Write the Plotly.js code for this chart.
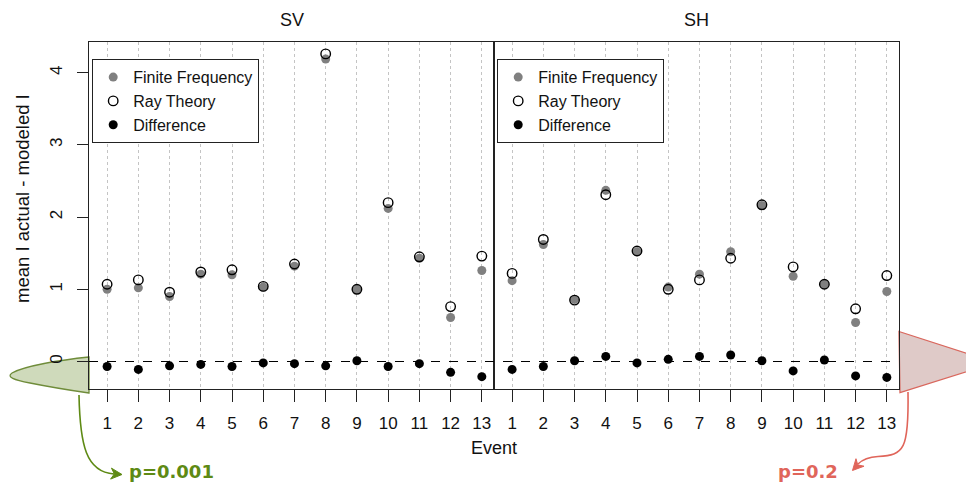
<!DOCTYPE html>
<html>
<head>
<meta charset="utf-8">
<script src="https://cdn.plot.ly/plotly-3.0.1.min.js"></script>
<style>
html,body{margin:0;padding:0;background:#fff;}
#chart{width:966px;height:483px;}
</style>
</head>
<body>
<div id="chart"></div>
<script>
// ---- data ----
var events = [1,2,3,4,5,6,7,8,9,10,11,12,13];
var tickLabels = ["1","2","3","4","5","6","7","8","9","10","11","12","13"];
var yTicks = [0,1,2,3,4];
var panelTitles = ["SV","SH"];
var seriesNames = ["Finite Frequency","Ray Theory","Difference"];

var svFinite = [1.00, 1.02, 0.90, 1.21, 1.20, 1.03, 1.32, 4.19, 1.00, 2.12, 1.43, 0.61, 1.26];
var svRay    = [1.07, 1.13, 0.96, 1.24, 1.27, 1.04, 1.35, 4.26, 1.00, 2.20, 1.45, 0.76, 1.46];
var svDiff   = [-0.07, -0.11, -0.06, -0.04, -0.07, -0.02, -0.03, -0.06, 0.01, -0.07, -0.03, -0.15, -0.21];

var shFinite = [1.12, 1.62, 0.86, 2.37, 1.52, 1.03, 1.21, 1.52, 2.16, 1.18, 1.07, 0.54, 0.97];
var shRay    = [1.22, 1.69, 0.85, 2.31, 1.53, 1.00, 1.13, 1.43, 2.17, 1.31, 1.07, 0.73, 1.19];
var shDiff   = [-0.11, -0.07, 0.01, 0.07, -0.02, 0.03, 0.07, 0.09, 0.01, -0.13, 0.02, -0.20, -0.22];

var pLeft = "p=0.001";
var pRight = "p=0.2";

// ---- layout geometry helpers (pixel -> paper) ----
var W = 966, H = 483;
var ML = 89, MR = 67, MT = 42, MB = 94;
var PW = W - ML - MR, PH = H - MT - MB;
function px(x){ return (x - ML) / PW; }
function py(y){ return (H - MB - y) / PH; }
function pt(x, y){ return px(x).toFixed(5) + "," + py(y).toFixed(5); }

var FONT = "Liberation Sans, Arial, Helvetica, sans-serif";
var GREY = "#808080";

function mk(x, y, name, style, xa, ya, legendName, show){
  var t = {x:x, y:y, type:"scatter", mode:"markers", name:name,
           xaxis:xa, yaxis:ya, legend:legendName, showlegend:show,
           cliponaxis:false, hoverinfo:"skip"};
  t.marker = style;
  return t;
}
var ffStyle = {symbol:"circle", size:9, color:GREY, line:{width:0}};
var rtStyle = {symbol:"circle-open", size:9.5, color:"#000", line:{width:1.4, color:"#000"}};
var dfStyle = {symbol:"circle", size:9, color:"#000", line:{width:0}};

var data = [
  mk(events, svFinite, seriesNames[0], ffStyle, "x", "y", "legend", true),
  mk(events, svRay, seriesNames[1], rtStyle, "x", "y", "legend", true),
  mk(events, svDiff, seriesNames[2], dfStyle, "x", "y", "legend", true),
  mk(events, shFinite, seriesNames[0], ffStyle, "x2", "y2", "legend2", true),
  mk(events, shRay, seriesNames[1], rtStyle, "x2", "y2", "legend2", true),
  mk(events, shDiff, seriesNames[2], dfStyle, "x2", "y2", "legend2", true)
];

function xax(domain, anchor){
  return {
    domain: domain, anchor: anchor, range: [0.42, 13.39],
    tickmode: "array", tickvals: events, ticktext: tickLabels,
    ticks: "outside", ticklen: 12, tickwidth: 1, tickcolor: "#222",
    tickfont: {family: FONT, size: 17, color: "#111"},
    ticklabelstandoff: 6,
    showgrid: true, gridcolor: "#c4c4c4", gridwidth: 1, griddash: "dot",
    showline: true, mirror: true, linecolor: "#222", linewidth: 1.3,
    zeroline: false, fixedrange: true
  };
}
var yRange = [-0.381, 4.425];

var green = "#5e8a14", greenFill = "#cfdabb", greenLine = "#6f8c3a";
var red = "#e0655a", redFill = "#dfcac8", redLine = "#d9675d";

function arrowHead(tx, ty, dx, dy, len, half, color){
  var n = Math.sqrt(dx*dx + dy*dy); dx /= n; dy /= n;
  var qx = -dy, qy = dx;
  var bx = tx - dx*len, by = ty - dy*len;
  var nx = tx - dx*len*0.7, ny = ty - dy*len*0.7;
  return {type:"path", xref:"paper", yref:"paper", layer:"above",
    path: "M " + pt(tx,ty) + " L " + pt(bx + qx*half, by + qy*half) +
          " L " + pt(nx, ny) + " L " + pt(bx - qx*half, by - qy*half) + " Z",
    fillcolor: color, line:{color: color, width: 1}};
}

var shapes = [
  // zero reference line
  {type:"line", xref:"paper", yref:"y", x0:0, x1:1, y0:0, y1:0,
   line:{color:"#000", width:1.2, dash:"dash"}, layer:"above"},
  // green half-distribution (left)
  {type:"path", xref:"paper", yref:"paper", layer:"below",
   path: "M " + pt(89,357) + " C " + pt(60,360) + " " + pt(24,366) + " " + pt(12,373) +
         " C " + pt(6,377) + " " + pt(14,380) + " " + pt(30,383) +
         " C " + pt(55,388) + " " + pt(75,391) + " " + pt(89,393) + " Z",
   fillcolor: greenFill, line:{color: greenLine, width: 1.3}},
  // red half-distribution (right)
  {type:"path", xref:"paper", yref:"paper", layer:"below",
   path: "M " + pt(899,331.5) + " L " + pt(975,356) + " C " + pt(995,362) + " " + pt(995,366) + " " + pt(975,369) +
         " L " + pt(900,392.7) + " Z",
   fillcolor: redFill, line:{color: redLine, width: 1.3}},
  // green curved arrow
  {type:"path", xref:"paper", yref:"paper", layer:"above",
   path: "M " + pt(79,395) + " C " + pt(80,445) + " " + pt(86,472) + " " + pt(114,474),
   line:{color: green, width: 1.6}},
  arrowHead(122, 474.5, 1, 0.08, 11, 5.5, green),
  // red curved arrow
  {type:"path", xref:"paper", yref:"paper", layer:"above",
   path: "M " + pt(908,392) + " C " + pt(909,450) + " " + pt(904,455) + " " + pt(878,456.5) +
         " C " + pt(868,457) + " " + pt(862,460) + " " + pt(858,464),
   line:{color: red, width: 1.6}},
  arrowHead(852.5, 470.5, -0.7, 0.75, 11, 5.5, red)
];

var annotations = [
  {text: panelTitles[0], xref:"paper", yref:"paper", x:0.25, y:py(20), xanchor:"center", yanchor:"middle",
   showarrow:false, font:{family:FONT, size:18, color:"#111"}},
  {text: panelTitles[1], xref:"paper", yref:"paper", x:0.75, y:py(20), xanchor:"center", yanchor:"middle",
   showarrow:false, font:{family:FONT, size:18, color:"#111"}},
  {text: "Event", xref:"paper", yref:"paper", x:0.5, y:py(448), xanchor:"center", yanchor:"middle",
   showarrow:false, font:{family:FONT, size:18, color:"#111"}},
  {text: "mean I actual - modeled I", xref:"paper", yref:"paper", x:px(22), y:py(199),
   xanchor:"center", yanchor:"middle", textangle:-90,
   showarrow:false, font:{family:FONT, size:18.5, color:"#111"}},
  {text: "<b>" + pLeft + "</b>", xref:"paper", yref:"paper", x:px(127), y:py(471.5),
   xanchor:"left", yanchor:"middle", showarrow:false,
   font:{family:"DejaVu Sans, sans-serif", size:18, color: green}},
  {text: "<b>" + pRight + "</b>", xref:"paper", yref:"paper", x:px(776), y:py(471.5),
   xanchor:"left", yanchor:"middle", showarrow:false,
   font:{family:"DejaVu Sans, sans-serif", size:18, color: red}}
];

var legendBase = {
  xref:"paper", yref:"paper", xanchor:"left", yanchor:"top",
  bgcolor:"#fff", bordercolor:"#222", borderwidth:1.2,
  font:{family:FONT, size:16, color:"#111"}, traceorder:"normal",
  itemclick:false, itemdoubleclick:false
};
var legend1 = Object.assign({}, legendBase, {x: px(92), y: py(59)});
var legend2 = Object.assign({}, legendBase, {x: px(497), y: py(59)});

var layout = {
  width: W, height: H,
  margin: {l: ML, r: MR, t: MT, b: MB, pad: 0},
  paper_bgcolor: "#fff", plot_bgcolor: "#fff",
  font: {family: FONT, color: "#111"},
  xaxis: xax([0, 0.5], "y"),
  xaxis2: xax([0.5, 1], "y2"),
  yaxis: {
    domain:[0,1], anchor:"x", range: yRange,
    tickmode:"array", tickvals: yTicks, ticktext: yTicks.map(String),
    ticks:"outside", ticklen: 11, tickwidth:1, tickcolor:"#222",
    tickangle: -90, tickfont:{family:FONT, size:17, color:"#111"},
    ticklabelstandoff: 8,
    showgrid:false, zeroline:false, showline:true, mirror:true,
    linecolor:"#222", linewidth:1.3, fixedrange:true
  },
  yaxis2: {
    domain:[0,1], anchor:"x2", matches:"y", range: yRange,
    showticklabels:false, ticks:"", showgrid:false, zeroline:false,
    showline:true, mirror:true, linecolor:"#222", linewidth:1.3, fixedrange:true
  },
  legend: legend1,
  legend2: legend2,
  shapes: shapes,
  annotations: annotations,
  hovermode: false
};

Plotly.newPlot("chart", data, layout, {displayModeBar:false, staticPlot:true});
</script>
</body>
</html>
